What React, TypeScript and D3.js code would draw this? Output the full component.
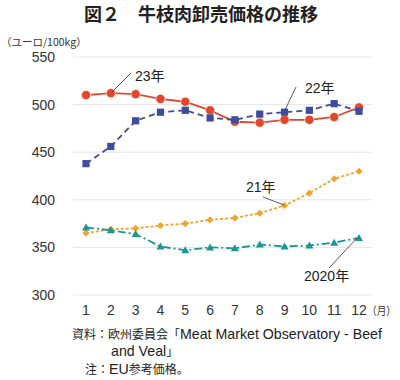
import React from "react";
import * as d3 from "d3";

const months = [1, 2, 3, 4, 5, 6, 7, 8, 9, 10, 11, 12];
const yTicks = [300, 350, 400, 450, 500, 550];
const s2023 = [510, 512, 511, 506, 503, 494, 482, 481, 484, 484, 487, 497];
const s2022 = [438, 456, 483, 492, 494, 486, 484, 490, 492, 494, 501, 493];
const s2021 = [365, 369, 370, 373, 375, 379, 381, 386, 394, 407, 422, 430];
const s2020 = [371, 368, 364, 351, 347, 350, 349, 353, 351, 352, 355, 360];

const FONT = "'Liberation Sans', 'Noto Sans CJK JP', sans-serif";
const JP = "'Noto Sans CJK JP', 'Liberation Sans', sans-serif";

export default function App() {
  const W = 400, H = 380;
  const x = d3.scalePoint<number>().domain(months).range([86, 359]);
  const y = d3.scaleLinear().domain([300, 550]).range([295, 57]);
  const line = d3.line<number>().x((_, i) => x(months[i])!).y((v) => y(v));

  const series = [
    { data: s2023, color: "#e2472b", dash: "", shape: "circle" },
    { data: s2022, color: "#3d4c9e", dash: "6,4", shape: "square" },
    { data: s2021, color: "#eea52f", dash: "3,2", shape: "diamond" },
    { data: s2020, color: "#1a9696", dash: "8,3,2,3", shape: "triangle" },
  ];

  const marker = (shape: string, cx: number, cy: number, color: string, k: number) => {
    if (shape === "circle") return <circle key={k} cx={cx} cy={cy} r={4.6} fill={color} stroke="#fff" strokeWidth={0.6} />;
    if (shape === "square") return <rect key={k} x={cx - 3.6} y={cy - 3.6} width={7.2} height={7.2} fill={color} />;
    if (shape === "diamond") return <path key={k} d={`M${cx},${cy - 3.6}L${cx + 3.6},${cy}L${cx},${cy + 3.6}L${cx - 3.6},${cy}Z`} fill={color} />;
    return <path key={k} d={`M${cx},${cy - 4}L${cx + 4},${cy + 3}L${cx - 4},${cy + 3}Z`} fill={color} />;
  };

  return (
    <svg width={W} height={H} style={{ position: "absolute", left: 0, top: 0, background: "#fff" }}>
      <text x={201} y={21} textAnchor="middle" fontFamily={JP} fontWeight="bold" fontSize={18} fill="#222">図２　牛枝肉卸売価格の推移</text>
      <text x={1} y={46} fontFamily={JP} fontSize={10.5} fill="#333">（ユーロ/100kg）</text>
      {yTicks.map((t) => (
        <g key={t}>
          <line x1={73} x2={372} y1={y(t)} y2={y(t)} stroke="#e6e6e6" strokeWidth={1} />
          <text x={55} y={y(t) + 5} textAnchor="end" fontFamily={FONT} fontSize={14} fill="#333">{t}</text>
        </g>
      ))}
      {months.map((m) => (
        <text key={m} x={x(m)} y={315} textAnchor="middle" fontFamily={FONT} fontSize={14} fill="#333">{m}</text>
      ))}
      <text x={367} y={315} fontFamily={JP} fontSize={11} textLength={29} lengthAdjust="spacingAndGlyphs" fill="#333">（月）</text>
      {series.map((s, si) => (
        <g key={si}>
          <path d={line(s.data)!} fill="none" stroke={s.color} strokeWidth={1.8} strokeDasharray={s.dash} />
          {s.data.map((v, i) => marker(s.shape, x(months[i])!, y(v), s.color, i))}
        </g>
      ))}
      <g stroke="#333" strokeWidth={0.8}>
        <line x1={112} y1={92} x2={131} y2={73} />
        <line x1={285} y1={110} x2={296} y2={87} />
        <line x1={284} y1={205} x2={263} y2={197} />
        <line x1={329} y1={268} x2={357} y2={238} />
      </g>
      <g fontFamily={FONT} fontSize={14} fill="#222">
        <text x={135} y={81}>23年</text>
        <text x={305} y={93}>22年</text>
        <text x={246} y={192}>21年</text>
        <text x={304} y={281}>2020年</text>
      </g>
      <g fontFamily={FONT} fontSize={12} fill="#222">
        <text x={72} y={339}>
          <tspan fontFamily={JP}>資料：欧州委員会「</tspan>
          <tspan fontSize={14.2}>Meat Market Observatory - Beef</tspan>
        </text>
        <text x={111} y={356}>
          <tspan fontSize={14.2}>and Veal</tspan>
          <tspan fontFamily={JP}>」</tspan>
        </text>
        <text x={85} y={374}>
          <tspan fontFamily={JP}>注：</tspan>
          <tspan fontSize={14.2}>EU</tspan>
          <tspan fontFamily={JP}>参考価格。</tspan>
        </text>
      </g>
    </svg>
  );
}
